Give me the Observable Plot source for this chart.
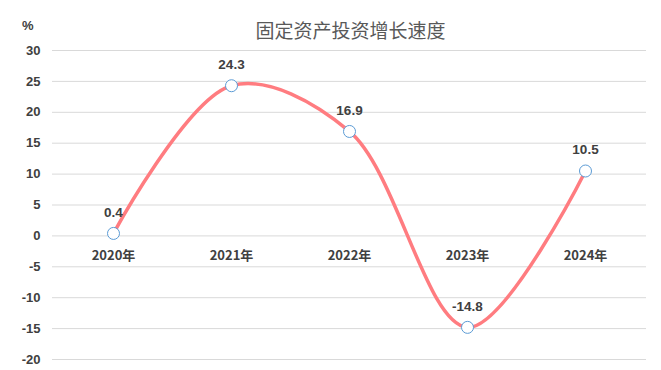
<!DOCTYPE html>
<html><head><meta charset="utf-8">
<script src="https://cdn.jsdelivr.net/npm/d3@7"></script>
<script src="https://cdn.jsdelivr.net/npm/@observablehq/plot@0.6"></script>
<style>
body{margin:0;background:#fff;width:661px;height:370px;overflow:hidden;position:relative;font-family:"Liberation Sans",Arial,sans-serif;}
#title{height:40px;box-sizing:border-box;padding-top:19px;text-align:center;font-family:"Noto Sans CJK SC",sans-serif;font-size:19px;line-height:22px;color:#595959;padding-left:40px;}
#unit{position:absolute;left:22px;top:18px;font-size:13px;font-weight:bold;color:#404040;}
</style></head><body>
<div id="title">固定资产投资增长速度</div>
<div id="unit">%</div>
<div id="chart"></div>
<script>
const years = ["2020年","2021年","2022年","2023年","2024年"];
const growth = [0.4, 24.3, 16.9, -14.8, 10.5];
const yTicks = [-20,-15,-10,-5,0,5,10,15,20,25,30];
const data = years.map((y,i)=>({year:y, value:growth[i]}));

const chart = Plot.plot({
  width:661, height:330,
  marginTop:10, marginBottom:11, marginLeft:52, marginRight:15,
  style:{fontFamily:"'Liberation Sans',Arial,sans-serif", fontSize:"13px", color:"#404040", background:"#fff"},
  x:{type:"point", domain:years, padding:0.5, axis:null},
  y:{domain:[-20,30], axis:null},
  marks:[
    Plot.gridY(yTicks,{stroke:"#d9d9d9", strokeOpacity:1, strokeWidth:1}),
    Plot.axisY({ticks:yTicks, tickSize:0, tickPadding:12, label:null, tickFormat:d=>String(d), fontWeight:"bold", fill:"#404040"}),
    Plot.text(data,{x:"year", y:()=>0, text:"year", dy:20, fontWeight:"bold", fontFamily:"'Noto Sans CJK SC',sans-serif", fontSize:13, fill:"#404040"}),
    Plot.line(data,{x:"year", y:"value", curve:"catmull-rom", stroke:"#FF7C80", strokeWidth:3.5}),
    Plot.dot(data,{x:"year", y:"value", r:6, fill:"#fff", stroke:"#5B9BD5", strokeWidth:1}),
    Plot.text(data,{x:"year", y:"value", text:d=>d.value.toFixed(1), dy:-21, fontWeight:"bold", fontSize:13.5, fill:"#404040"})
  ]
});
document.getElementById("chart").appendChild(chart);
</script>
</body></html>
